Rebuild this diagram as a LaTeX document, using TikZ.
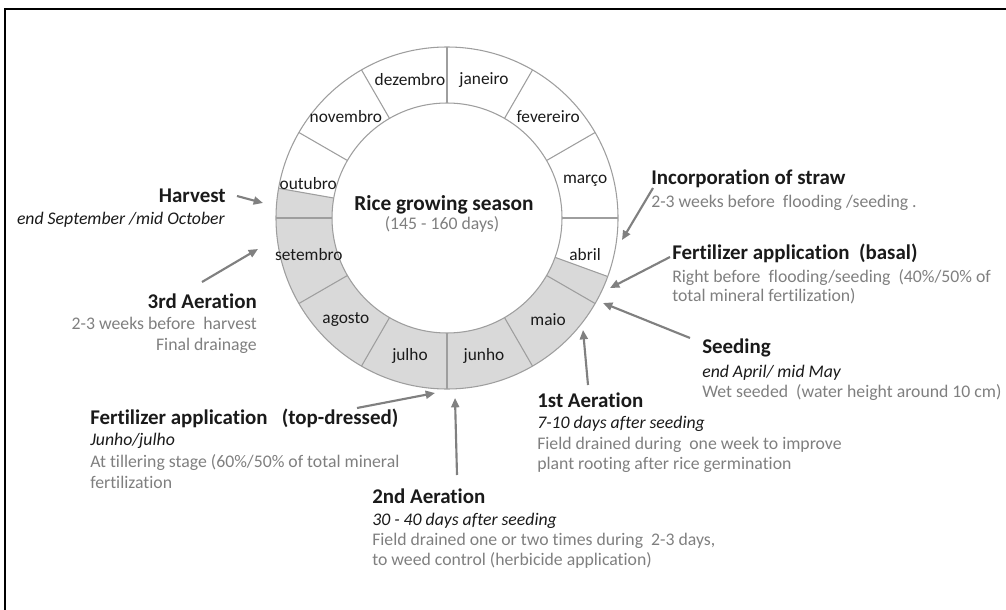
\documentclass[tikz,border=0pt]{standalone}
\usepackage{fontspec}
\setmainfont[Ligatures={NoCommon}]{Carlito}
\usetikzlibrary{arrows.meta}
\definecolor{txtgray}{HTML}{7F7F7F}
\definecolor{arrgray}{HTML}{808080}
\definecolor{ringline}{HTML}{9E9E9E}
\definecolor{ringfill}{HTML}{D9D9D9}
\definecolor{ink}{HTML}{1A1A1A}
\begin{document}
\begin{tikzpicture}[x=0.75pt,y=0.75pt,
  head/.style={font=\fontsize{15.7}{18}\selectfont\bfseries, text=ink, inner sep=0pt},
  when/.style={font=\fontsize{13.3}{16}\selectfont\itshape, text=ink, inner sep=0pt},
  note/.style={font=\fontsize{13.3}{16}\selectfont, text=txtgray, inner sep=0pt},
  month/.style={font=\fontsize{13}{16}\selectfont, text=ink, inner sep=0pt},
  pointer/.style={draw=arrgray, line width=1.6pt, -{Triangle[length=7pt,width=6pt]}},
  ring/.style={draw=ringline, line width=0.8pt},
]
\useasboundingbox (0,0) rectangle (1006,-610);
\draw[line width=2pt] (5,-610) -- (5,-9) -- (1006,-9);

% ring
\begin{scope}[shift={(447,-218)}]
  \fill[ringfill] (170:128.25pt) arc[start angle=170,end angle=340,radius=128.25pt]
    -- (340:86.25pt) arc[start angle=340,end angle=170,radius=86.25pt] -- cycle;
  \draw[ring] (0,0) circle[radius=128.25pt];
  \draw[ring] (0,0) circle[radius=86.25pt];
  \foreach \a in {0,30,...,330,170,340} \draw[ring] (\a:86.25pt) -- (\a:128.25pt);
  \foreach \n/\m/\a in {1/janeiro/75, 2/fevereiro/45, 3/março/15, 4/abril/-15,
      5/maio/-45, 6/junho/-75, 7/julho/-105, 8/agosto/-135, 9/setembro/-165,
      10/outubro/166, 11/novembro/135, 12/dezembro/105}
    \node[month] (m\n) at (\a:107.25pt) {\m};
  \node[head, font=\fontsize{16}{18}\selectfont\bfseries, anchor=base] (title) at (-3,8) {Rice growing season};
  \node[note, anchor=base] (days) at (-5,-11) {(145 - 160 days)};
\end{scope}

% texts
\node[head, anchor=base east] (harv) at (226,-202) {Harvest};
\node[when, anchor=base east] (harvw) at (225,-224) {end September /mid October};
\node[head, anchor=base east] (aer3) at (257,-308) {3rd Aeration};
\node[note, anchor=base east] (aer3a) at (257,-329) {2-3 weeks before~ harvest};
\node[note, anchor=base east] (aer3b) at (257,-350) {Final drainage};
\node[head, anchor=base west] (straw) at (651,-184) {Incorporation of straw};
\node[note, anchor=base west] (strawa) at (651,-207) {2-3 weeks before~ flooding /seeding .};
\node[head, anchor=base west] (basal) at (672,-259) {Fertilizer application~ (basal)};
\node[note, anchor=base west] (basala) at (672,-282) {Right before~ flooding/seeding~ (40\%/50\% of};
\node[note, anchor=base west] (basalb) at (672,-301) {total mineral fertilization)};
\node[head, anchor=base west] (seed) at (702,-353) {Seeding};
\node[when, anchor=base west] (seedw) at (702,-377) {end April/ mid May};
\node[note, anchor=base west] (seeda) at (702,-397) {Wet seeded~ (water height around 10 cm)};
\node[head, anchor=base west] (aer1) at (537,-407) {1st Aeration};
\node[when, anchor=base west] (aer1w) at (537,-428) {7-10 days after seeding};
\node[note, anchor=base west] (aer1a) at (537,-449) {Field drained during~ one week to improve};
\node[note, anchor=base west] (aer1b) at (537,-469) {plant rooting after rice germination};
\node[head, anchor=base west] (top) at (90,-424) {Fertilizer application~~ (top-dressed)};
\node[when, anchor=base west] (topw) at (90,-445) {Junho/julho};
\node[note, anchor=base west] (topa) at (90,-467) {At tillering stage (60\%/50\% of total mineral};
\node[note, anchor=base west] (topb) at (90,-488) {fertilization};
\node[head, anchor=base west] (aer2) at (372,-503) {2nd Aeration};
\node[when, anchor=base west] (aer2w) at (372,-525) {30 - 40 days after seeding};
\node[note, anchor=base west] (aer2a) at (372,-545) {Field drained one or two times during~ 2-3 days,};
\node[note, anchor=base west] (aer2b) at (372,-565) {to weed control (herbicide application)};

% arrow end points
\coordinate (harvS) at (237,-196);  \coordinate (harvE) at (263,-203);
\coordinate (aer3S) at (202,-282);  \coordinate (aer3E) at (258,-249);
\coordinate (strawS) at (653,-188); \coordinate (strawE) at (622,-240);
\coordinate (basalS) at (670,-257); \coordinate (basalE) at (610,-288);
\coordinate (seedS) at (690,-338);  \coordinate (seedE) at (603,-303);
\coordinate (aer1S) at (588,-385);  \coordinate (aer1E) at (583,-330);
\coordinate (topS) at (357,-408);   \coordinate (topE) at (435,-393);
\coordinate (aer2S) at (457,-475);  \coordinate (aer2E) at (455,-398);
\foreach \p in {harv,aer3,straw,basal,seed,aer1,top,aer2}
  \draw[pointer] (\p S) -- (\p E);
\end{tikzpicture}
\end{document}
